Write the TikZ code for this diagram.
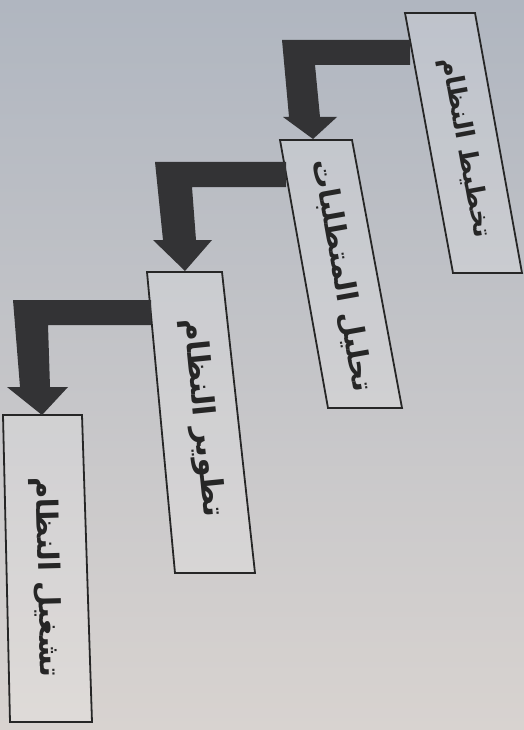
\documentclass[tikz,border=0pt]{standalone}
\usepackage{fontspec}
\newfontfamily\arabicfont[Script=Arabic]{DejaVu Sans}
\TeXXeTstate=1
\usetikzlibrary{calc}
\definecolor{bgtop}{HTML}{B0B6C0}
\definecolor{bgmid}{HTML}{CCCACB}
\definecolor{bgbot}{HTML}{D8D3D0}
\definecolor{boxfill}{HTML}{D8D7D8}
\definecolor{ink}{HTML}{262626}
\definecolor{arrowgray}{HTML}{333335}
\tikzset{
  boxframe/.style={draw=ink, line width=1.8pt, fill=white, fill opacity=0.18, line join=miter},
  boxlabel/.style={text=ink, inner sep=0pt, font=\arabicfont\bfseries},
  bigarrow/.style={fill=arrowgray, draw=none},
}
\begin{document}
\begin{tikzpicture}[x=1pt,y=-1pt]
\useasboundingbox (0,0) rectangle (524,730);
\shade[top color=bgtop, middle color=bgmid, bottom color=bgbot] (0,0) rectangle (524,730);

% box corners
\coordinate (b1tl) at (405,13);  \coordinate (b1tr) at (475,13);
\coordinate (b1br) at (522,273); \coordinate (b1bl) at (453,273);
\coordinate (b2tl) at (280,140); \coordinate (b2tr) at (352,140);
\coordinate (b2br) at (402,408); \coordinate (b2bl) at (328,408);
\coordinate (b3tl) at (147,272); \coordinate (b3tr) at (222,272);
\coordinate (b3br) at (255,573); \coordinate (b3bl) at (175,573);
\coordinate (b4tl) at (3,415);   \coordinate (b4tr) at (82,415);
\coordinate (b4br) at (92,722);  \coordinate (b4bl) at (10,722);

\draw[boxframe] (b1tl) -- (b1tr) -- (b1br) -- (b1bl) -- cycle;
\draw[boxframe] (b2tl) -- (b2tr) -- (b2br) -- (b2bl) -- cycle;
\draw[boxframe] (b3tl) -- (b3tr) -- (b3br) -- (b3bl) -- cycle;
\draw[boxframe] (b4tl) -- (b4tr) -- (b4br) -- (b4bl) -- cycle;

\node[boxlabel, rotate=-79.5] (b1) at (465,148) {\resizebox{183pt}{!}{\beginR تخطيط النظام\endR}};
\node[boxlabel, rotate=-79.8] (b2) at (342,276) {\resizebox{235pt}{!}{\beginR تحليل المتطلبات\endR}};
\node[boxlabel, rotate=-84.2] (b3) at (202,418) {\resizebox{200pt}{!}{\beginR تطوير النظام\endR}};
\node[boxlabel, rotate=-88.5] (b4) at (46,577) {\resizebox{200pt}{!}{\beginR تشغيل النظام\endR}};

% arrows (L-shaped block arrows)
\coordinate (a1s) at (410,40);  \coordinate (a1t) at (313,139);
\coordinate (a2s) at (286,162); \coordinate (a2t) at (185,271);
\coordinate (a3s) at (151,300); \coordinate (a3t) at (42,415);
\fill[bigarrow] (a1s) -- (282,40) -- (289,117) -- (283,117) -- (a1t) -- (337,117) -- (320,117) -- (315,65) -- (410,65) -- cycle;
\fill[bigarrow] (a2s) -- (155,162) -- (163,240) -- (153,240) -- (a2t) -- (212,240) -- (196,240) -- (192,187) -- (286,187) -- cycle;
\fill[bigarrow] (a3s) -- (13,300) -- (20,387) -- (7,387) -- (a3t) -- (68,387) -- (50,387) -- (48,325) -- (151,325) -- cycle;
\end{tikzpicture}
\end{document}
